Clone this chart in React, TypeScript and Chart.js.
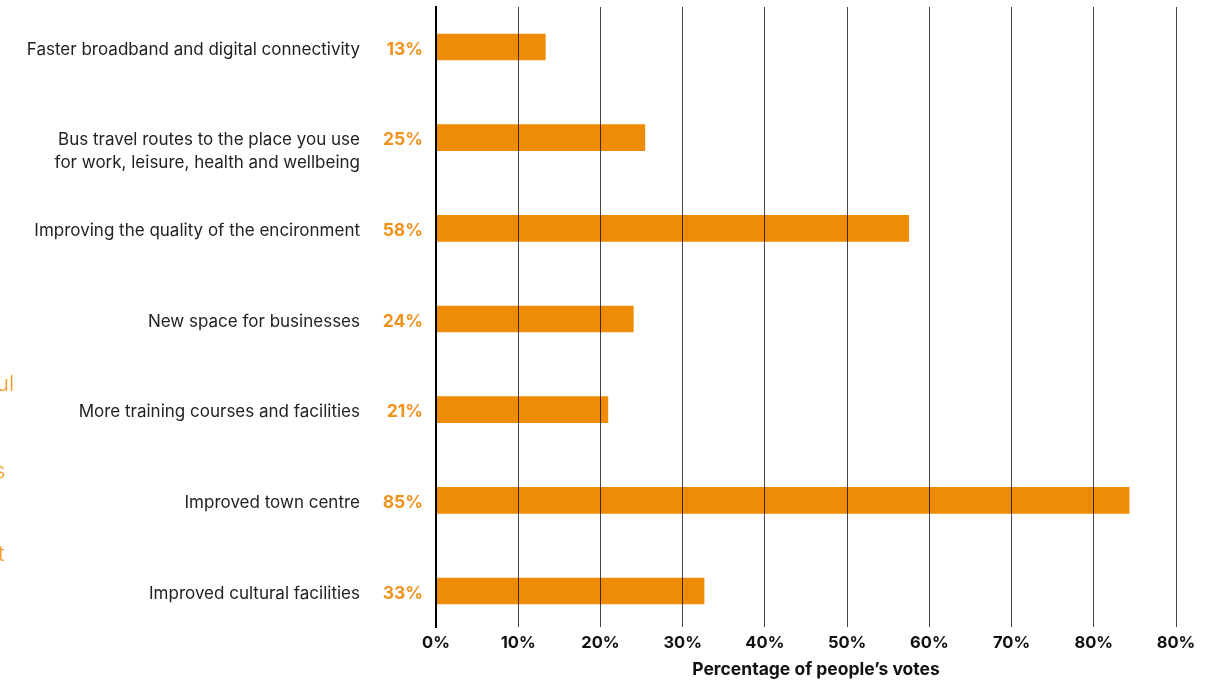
import React, { useEffect, useRef } from "react";
import { Chart, registerables } from "chart.js";

Chart.register(...registerables);

const categories: (string | string[])[] = [
  "Faster broadband and digital connectivity",
  [" ", "Bus travel routes to the place you use", "for work, leisure, health and wellbeing"],
  "Improving the quality of the encironment",
  "New space for businesses",
  "More training courses and facilities",
  "Improved town centre",
  "Improved cultural facilities",
];
const values = [13.3, 25.4, 57.5, 24.0, 20.9, 84.3, 32.6];
const valueLabels = ["13%", "25%", "58%", "24%", "21%", "85%", "33%"];
const xTickLabels = ["0%", "10%", "20%", "30%", "40%", "50%", "60%", "70%", "80%", "80%"];
const axisTitle = "Percentage of people\u2019s votes";
const sideFragments = ["ul", "s", "t"];

const ORANGE = "#EE8C05";
const LABEL_ORANGE = "#F0921C";
const Y_MIN = -0.441;
const Y_MAX = 6.397;

export default function App() {
  const ref = useRef<HTMLCanvasElement>(null);

  useEffect(() => {
    if (!ref.current) return;
    const labelPlugin = {
      id: "valueLabels",
      afterDatasetsDraw(chart: any) {
        const ctx = chart.ctx;
        const meta = chart.getDatasetMeta(0);
        ctx.save();
        ctx.font = "bold 17.5px Inter, 'Noto Sans', sans-serif";
        ctx.fillStyle = LABEL_ORANGE;
        ctx.textAlign = "right";
        ctx.textBaseline = "middle";
        meta.data.forEach((el: any, i: number) => {
          ctx.fillText(valueLabels[i], chart.chartArea.left - 13, el.y + 2.5);
        });
        ctx.restore();
      },
      afterDraw(chart: any) {
        const ctx = chart.ctx;
        ctx.save();
        ctx.font = "bold 17.5px Inter, 'Noto Sans', sans-serif";
        ctx.fillStyle = "#111";
        ctx.textAlign = "center";
        ctx.textBaseline = "middle";
        const xs = chart.scales.x;
        const cx = (xs.getPixelForValue(0) + xs.getPixelForValue(90)) / 2 + 10;
        ctx.fillText(axisTitle, cx, chart.chartArea.bottom + 43);
        ctx.restore();
      },
    };

    const chart = new Chart(ref.current, {
      type: "bar",
      data: {
        datasets: [
          {
            data: values.map((v, i) => ({ x: v, y: i })),
            backgroundColor: ORANGE,
            barThickness: 26,
            borderWidth: 0,
          },
        ],
      },
      options: {
        indexAxis: "y",
        animation: false,
        responsive: false,
        maintainAspectRatio: false,
        layout: { padding: { top: 7, right: 42, bottom: 0, left: 0 } },
        plugins: { legend: { display: false }, tooltip: { enabled: false } },
        scales: {
          x: {
            type: "linear",
            min: 0,
            max: 90,
            ticks: {
              stepSize: 10,
              padding: 6,
              color: "#111",
              font: { family: "Inter, 'Noto Sans', sans-serif", size: 16.5, weight: "bold" },
              callback: (_v: any, i: number) => xTickLabels[i],
              maxRotation: 0,
            },
            grid: {
              color: "rgba(0,0,0,0.72)",
              lineWidth: 1,
              drawTicks: false,
              z: 1,
            },
            border: { display: false },
            afterFit: (s: any) => {
              s.height = 56;
            },
          },
          y: {
            type: "linear",
            reverse: true,
            bounds: "data",
            offset: false,
            min: Y_MIN,
            max: Y_MAX,
            afterBuildTicks: (s: any) => {
              s.ticks = categories.map((_c, i) => ({ value: i }));
              s.min = Y_MIN;
              s.max = Y_MAX;
            },
            ticks: {
              padding: 76,
              labelOffset: 2.5,
              color: "#222",
              font: { family: "Inter, 'Noto Sans', sans-serif", size: 17, lineHeight: 1.35 },
              callback: (v: any) => categories[v as number],
              autoSkip: false,
            },
            grid: { display: false, drawTicks: false, offset: false },
            border: { display: true, color: "#000", width: 2, z: 2 },
            afterFit: (s: any) => {
              s.width = 436;
              s.paddingTop = 0;
              s.paddingBottom = 0;
            },
          },
        },
      },
      plugins: [labelPlugin],
    } as any);
    return () => chart.destroy();
  }, []);

  const fragTop = [370, 457, 540];
  const fragLeft = [-4, -6, -2];

  return (
    <div style={{ position: "fixed", left: 0, top: 0, width: 1218, height: 683, background: "#fff", overflow: "hidden" }}>
      <canvas ref={ref} width={1218} height={683} style={{ position: "absolute", left: 0, top: 0 }} />
      {sideFragments.map((t, i) => (
        <span
          key={i}
          style={{
            position: "absolute",
            left: fragLeft[i],
            top: fragTop[i],
            fontFamily: "Inter, 'Noto Sans', sans-serif",
            fontWeight: 300,
            fontSize: 22,
            lineHeight: "26px",
            color: "#F39A2B",
          }}
        >
          {t}
        </span>
      ))}
    </div>
  );
}
